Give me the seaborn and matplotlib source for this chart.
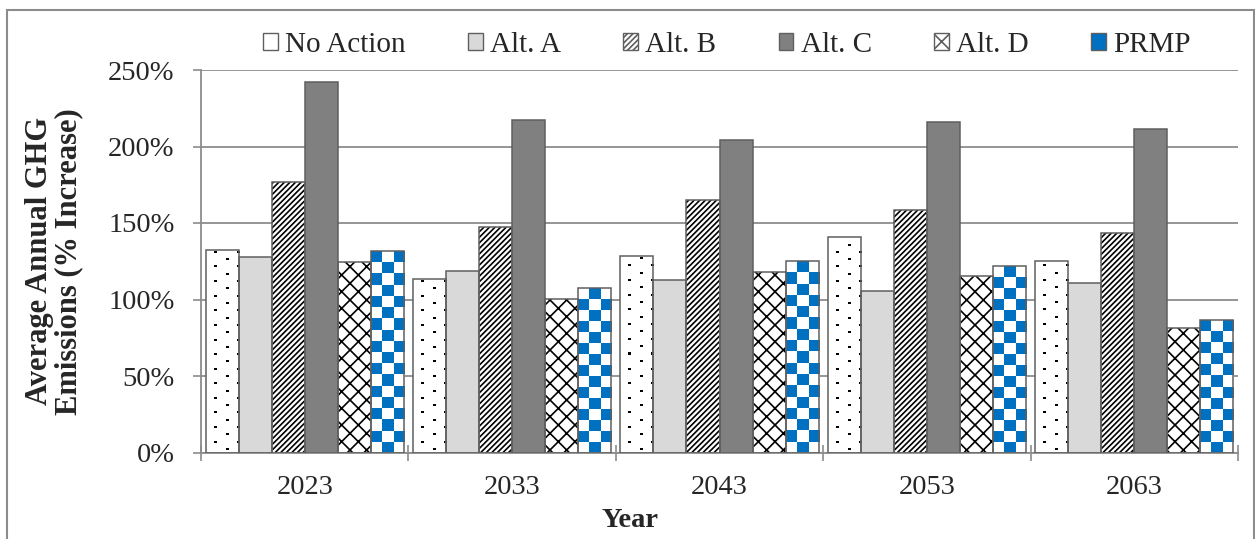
import numpy as np
import pandas as pd
import matplotlib
matplotlib.use("Agg")
import matplotlib.pyplot as plt
from matplotlib.patches import Patch, PathPatch, Rectangle
from matplotlib.colors import ListedColormap
from matplotlib.ticker import FuncFormatter
import seaborn as sns

# ---- data -------------------------------------------------------------
years = ["2023", "2033", "2043", "2053", "2063"]
scenarios = ["No Action", "Alt. A", "Alt. B", "Alt. C", "Alt. D", "PRMP"]

no_action = [132.5, 113.7, 128.2, 140.9, 124.9]
alt_a = [128.0, 118.6, 112.7, 105.4, 110.7]
alt_b = [176.5, 147.2, 165.1, 158.6, 143.7]
alt_c = [242.0, 217.6, 204.0, 216.0, 211.5]
alt_d = [124.7, 100.6, 118.3, 115.5, 81.2]
prmp = [131.7, 107.8, 125.1, 121.8, 86.8]

series = [no_action, alt_a, alt_b, alt_c, alt_d, prmp]
y_ticks = [0, 50, 100, 150, 200, 250]

df = pd.DataFrame(
    [(yr, sc, v) for sc, vals in zip(scenarios, series) for yr, v in zip(years, vals)],
    columns=["Year", "Scenario", "Value"],
)

# ---- styles -----------------------------------------------------------
BLUE = "#0070c0"
GRID = "#8c8c8c"
EDGE = "#5f5f5f"
fills = {"No Action": "white", "Alt. A": "#d9d9d9", "Alt. B": "white",
         "Alt. C": "#808080", "Alt. D": "white", "PRMP": "white"}
hatches = {"No Action": None, "Alt. A": None, "Alt. B": "//////",
           "Alt. C": None, "Alt. D": "xx", "PRMP": None}
textures = {"No Action": "dots", "PRMP": "checker"}

FS = 20.5

sns.set_style("white")
plt.rcParams["font.family"] = ["Liberation Serif", "DejaVu Serif"]
plt.rcParams["hatch.linewidth"] = 1.2

W, H = 1255, 539
fig = plt.figure(figsize=(W / 100, H / 100), dpi=100)
ax = fig.add_axes([201 / W, 1 - 452.5 / H, (1238 - 201) / W, (452.5 - 70) / H])

sns.barplot(data=df, x="Year", y="Value", hue="Scenario", hue_order=scenarios,
            order=years, palette=[fills[s] for s in scenarios], saturation=1,
            width=0.955, legend=False, ax=ax, linewidth=0)

ax.set_xlim(-0.5, len(years) - 0.5)
ax.set_ylim(0, 250)

bbox = ax.get_window_extent()
px_x = bbox.width / len(years)
px_y = bbox.height / 250.0


def dot_texture(w_px, h_px):
    """Staggered grid of small dark dots, one pixel array per bar."""
    img = np.zeros((h_px, w_px))
    row_step, col_step = 7.3, 22.0
    r = 0
    y = 3.0
    while y < h_px - 1:
        start = 8.0 if r % 2 else 19.0
        xs = np.arange(start - col_step, w_px, col_step)
        for x in xs:
            xi, yi = int(round(x)), int(round(y))
            if 0 <= xi < w_px - 1 and 0 <= yi < h_px - 1:
                img[yi:yi + 2, xi:xi + 3] = 1
        y += row_step
        r += 1
    return img, ListedColormap(["white", "black"])


def checker_texture(w_px, h_px):
    ncols = 3
    cell = w_px / ncols
    nrows = max(1, int(round(h_px / cell)))
    board = np.add.outer(np.arange(nrows), np.arange(ncols)) % 2
    return board, ListedColormap(["white", BLUE])


for cont, sc in zip(ax.containers, scenarios):
    for p in cont.patches:
        p.set_facecolor(fills[sc])
        p.set_linewidth(0)
        if hatches[sc]:
            p.set_edgecolor("black")
            p.set_hatch(hatches[sc])
        p.set_zorder(2)
        if sc in textures:
            x0, w, h = p.get_x(), p.get_width(), p.get_height()
            w_px = max(1, int(round(w * px_x)))
            h_px = max(1, int(round(h * px_y)))
            if textures[sc] == "dots":
                img, cmap = dot_texture(w_px, h_px)
            else:
                img, cmap = checker_texture(w_px, h_px)
            ax.imshow(img, extent=(x0, x0 + w, 0, h), origin="lower",
                      cmap=cmap, vmin=0, vmax=1, interpolation="nearest",
                      aspect="auto", zorder=2.5)
        outline = PathPatch(p.get_path(), transform=p.get_transform(),
                            fill=False, edgecolor=EDGE, linewidth=1.1, zorder=3)
        ax.add_patch(outline)

ax.set_xlim(-0.5, len(years) - 0.5)
ax.set_ylim(0, 250)
ax.set_aspect("auto")

# ---- axes -------------------------------------------------------------
ax.set_yticks(y_ticks)
ax.yaxis.set_major_formatter(FuncFormatter(lambda v, _: f"{int(v)}%"))
ax.grid(axis="y", color=GRID, linewidth=1.3)
ax.grid(axis="x", visible=False)
ax.set_axisbelow(True)
for side in ("top", "right"):
    ax.spines[side].set_visible(False)
for side in ("left", "bottom"):
    ax.spines[side].set_color(GRID)
    ax.spines[side].set_linewidth(1.3)

ax.tick_params(axis="y", which="major", left=True, length=6, width=1.2,
               color=GRID, labelsize=FS, pad=13)
ax.set_xticks(range(len(years)))
ax.set_xticklabels(years)
ax.set_xticks(np.arange(-0.5, len(years), 1.0), minor=True)
ax.tick_params(axis="x", which="major", length=0, labelsize=FS, pad=16.5)
ax.tick_params(axis="x", which="minor", bottom=True, direction="inout",
               length=12, width=1.2, color=GRID)

ax.set_xlabel("Year", fontsize=FS, fontweight="bold")
ax.xaxis.set_label_coords((630 - 201) / 1037, -0.146)
ax.set_ylabel("Average Annual GHG\nEmissions (% Increase)", fontsize=22,
              fontweight="bold", labelpad=18, linespacing=1.0)

# ---- legend -----------------------------------------------------------
handles = []
for sc in scenarios:
    if sc == "PRMP":
        handles.append(Patch(facecolor=BLUE, edgecolor=EDGE, linewidth=1.0, label=sc))
    else:
        handles.append(Patch(facecolor=fills[sc], edgecolor=EDGE, linewidth=1.0,
                             hatch=hatches[sc], label=sc))
ax.legend(handles=handles, loc="center", bbox_to_anchor=(0.507, 1.066), ncol=6,
          frameon=False, fontsize=21, handlelength=0.5, handleheight=0.5,
          handletextpad=0.25, columnspacing=2.14, borderaxespad=0)

# outer frame
fig.add_artist(Rectangle((7 / W, -0.02), (1254 - 7) / W, (H - 10) / H + 0.02,
                         transform=fig.transFigure, fill=False,
                         edgecolor=GRID, linewidth=1.5))

fig.savefig("out.png", dpi=100)
